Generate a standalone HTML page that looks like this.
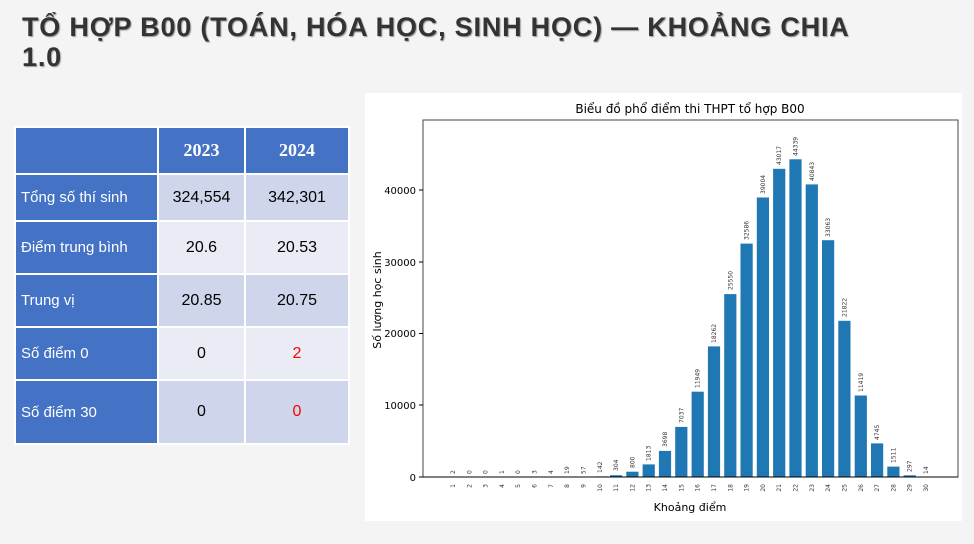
<!DOCTYPE html>
<html><head><meta charset="utf-8"><style>
body{margin:0;width:974px;height:544px;background:#f4f4f4;position:relative;overflow:hidden;font-family:"Liberation Sans","DejaVu Sans",sans-serif}
h1{position:absolute;left:22px;top:12px;margin:0;font-size:27px;line-height:30px;font-weight:bold;color:#333;text-shadow:1px 1px 1px #999;letter-spacing:0.8px}
table{position:absolute;left:14px;top:126px;border-collapse:collapse;table-layout:fixed;width:334px}
td{border:2px solid #fff;font-size:16px;color:#000;text-align:center;padding:0}
td.h{background:#4472c4;color:#fff;text-align:left;padding-left:5px;font-size:15px}
th{background:#4472c4;color:#fff;font-family:"Liberation Serif",serif;font-size:18px;border:2px solid #fff}
.a td.v{background:#cfd5ea}.b td.v{background:#e9ebf5}
</style></head><body>
<h1>TỔ HỢP B00 (TOÁN, HÓA HỌC, SINH HỌC) — KHOẢNG CHIA<br>1.0</h1>
<table>
<colgroup><col style="width:143px"><col style="width:87px"><col style="width:104px"></colgroup>
<tr style="height:47px"><th></th><th>2023</th><th>2024</th></tr>
<tr class="a" style="height:47px"><td class="h">Tổng số thí sinh</td><td class="v">324,554</td><td class="v">342,301</td></tr>
<tr class="b" style="height:53px"><td class="h">Điểm trung bình</td><td class="v">20.6</td><td class="v">20.53</td></tr>
<tr class="a" style="height:53px"><td class="h">Trung vị</td><td class="v">20.85</td><td class="v">20.75</td></tr>
<tr class="b" style="height:53px"><td class="h">Số điểm 0</td><td class="v">0</td><td class="v" style="color:#f00">2</td></tr>
<tr class="a" style="height:64px"><td class="h">Số điểm 30</td><td class="v">0</td><td class="v" style="color:#f00">0</td></tr>
</table>
<svg style="position:absolute;left:0;top:0" width="974" height="544" font-family="DejaVu Sans, sans-serif">
<rect x="365" y="93" width="597" height="428" fill="#fff"/>
<text x="690" y="113" font-size="12" text-anchor="middle" fill="#000">Biểu đồ phổ điểm thi THPT tổ hợp B00</text>
<rect x="423" y="120" width="535" height="357" fill="none" stroke="#444" stroke-width="1"/>
<g font-size="10" text-anchor="end" fill="#000">
<text x="416" y="481">0</text><text x="416" y="409">10000</text><text x="416" y="337">20000</text><text x="416" y="266">30000</text><text x="416" y="194">40000</text>
</g>
<g stroke="#000"><line x1="419" y1="477" x2="423" y2="477"/><line x1="419" y1="405" x2="423" y2="405"/><line x1="419" y1="333.5" x2="423" y2="333.5"/><line x1="419" y1="262" x2="423" y2="262"/><line x1="419" y1="190" x2="423" y2="190"/></g>
<text transform="translate(381,300) rotate(-90)" font-size="11" text-anchor="middle">Số lượng học sinh</text>
<text x="690" y="511" font-size="11" text-anchor="middle">Khoảng điểm</text>
<g fill="#1f77b4" stroke="#fff" stroke-width="0.8">
<rect x="595.3" y="476" width="13" height="1"/>
<rect x="609.6" y="474.8" width="13" height="2.2"/>
<rect x="625.9" y="471.3" width="13" height="5.7"/>
<rect x="642.2" y="464" width="13" height="13"/>
<rect x="658.5" y="450.5" width="13" height="26.5"/>
<rect x="674.8" y="426.5" width="13" height="50.5"/>
<rect x="691.2" y="391.3" width="13" height="85.7"/>
<rect x="707.5" y="346" width="13" height="131"/>
<rect x="723.8" y="293.7" width="13" height="183.3"/>
<rect x="740.1" y="243.2" width="13" height="233.8"/>
<rect x="756.4" y="197.1" width="13" height="279.9"/>
<rect x="772.7" y="168.4" width="13" height="308.6"/>
<rect x="789" y="158.9" width="13" height="318.1"/>
<rect x="805.3" y="184" width="13" height="293"/>
<rect x="821.6" y="239.8" width="13" height="237.2"/>
<rect x="837.9" y="320.4" width="13" height="156.6"/>
<rect x="854.3" y="395.1" width="13" height="81.9"/>
<rect x="870.6" y="443" width="13" height="34"/>
<rect x="886.9" y="466.2" width="13" height="10.8"/>
<rect x="903.2" y="474.9" width="13" height="2.1"/>
</g>
<line x1="423" y1="477" x2="958" y2="477" stroke="#000"/>
<g font-size="6" fill="#333">
<text transform="translate(455,474) rotate(-90)">2</text>
<text transform="translate(471.3,474) rotate(-90)">0</text>
<text transform="translate(487.6,474) rotate(-90)">0</text>
<text transform="translate(503.9,474) rotate(-90)">1</text>
<text transform="translate(520.2,474) rotate(-90)">0</text>
<text transform="translate(536.6,474) rotate(-90)">3</text>
<text transform="translate(552.9,474) rotate(-90)">4</text>
<text transform="translate(569.2,474) rotate(-90)">19</text>
<text transform="translate(585.5,474) rotate(-90)">57</text>
<text transform="translate(601.8,473) rotate(-90)">142</text>
<text transform="translate(618.1,471) rotate(-90)">304</text>
<text transform="translate(634.4,468) rotate(-90)">800</text>
<text transform="translate(650.7,461) rotate(-90)">1813</text>
<text transform="translate(667,447) rotate(-90)">3698</text>
<text transform="translate(683.3,423) rotate(-90)">7037</text>
<text transform="translate(699.7,388) rotate(-90)">11949</text>
<text transform="translate(716,343) rotate(-90)">18262</text>
<text transform="translate(732.3,290) rotate(-90)">25550</text>
<text transform="translate(748.6,240) rotate(-90)">32586</text>
<text transform="translate(764.9,194) rotate(-90)">39004</text>
<text transform="translate(781.2,165) rotate(-90)">43017</text>
<text transform="translate(797.5,156) rotate(-90)">44339</text>
<text transform="translate(813.8,181) rotate(-90)">40843</text>
<text transform="translate(830.1,237) rotate(-90)">33063</text>
<text transform="translate(846.4,317) rotate(-90)">21822</text>
<text transform="translate(862.8,392) rotate(-90)">11419</text>
<text transform="translate(879.1,440) rotate(-90)">4745</text>
<text transform="translate(895.4,463) rotate(-90)">1511</text>
<text transform="translate(911.7,472) rotate(-90)">297</text>
<text transform="translate(928,474) rotate(-90)">14</text>
</g>
<g font-size="6" fill="#333" text-anchor="end">
<text transform="translate(455,484) rotate(-90)">1</text>
<text transform="translate(471.3,484) rotate(-90)">2</text>
<text transform="translate(487.6,484) rotate(-90)">3</text>
<text transform="translate(503.9,484) rotate(-90)">4</text>
<text transform="translate(520.2,484) rotate(-90)">5</text>
<text transform="translate(536.6,484) rotate(-90)">6</text>
<text transform="translate(552.9,484) rotate(-90)">7</text>
<text transform="translate(569.2,484) rotate(-90)">8</text>
<text transform="translate(585.5,484) rotate(-90)">9</text>
<text transform="translate(601.8,484) rotate(-90)">10</text>
<text transform="translate(618.1,484) rotate(-90)">11</text>
<text transform="translate(634.4,484) rotate(-90)">12</text>
<text transform="translate(650.7,484) rotate(-90)">13</text>
<text transform="translate(667,484) rotate(-90)">14</text>
<text transform="translate(683.3,484) rotate(-90)">15</text>
<text transform="translate(699.7,484) rotate(-90)">16</text>
<text transform="translate(716,484) rotate(-90)">17</text>
<text transform="translate(732.3,484) rotate(-90)">18</text>
<text transform="translate(748.6,484) rotate(-90)">19</text>
<text transform="translate(764.9,484) rotate(-90)">20</text>
<text transform="translate(781.2,484) rotate(-90)">21</text>
<text transform="translate(797.5,484) rotate(-90)">22</text>
<text transform="translate(813.8,484) rotate(-90)">23</text>
<text transform="translate(830.1,484) rotate(-90)">24</text>
<text transform="translate(846.4,484) rotate(-90)">25</text>
<text transform="translate(862.8,484) rotate(-90)">26</text>
<text transform="translate(879.1,484) rotate(-90)">27</text>
<text transform="translate(895.4,484) rotate(-90)">28</text>
<text transform="translate(911.7,484) rotate(-90)">29</text>
<text transform="translate(928,484) rotate(-90)">30</text>
</g>
</svg>
</body></html>
